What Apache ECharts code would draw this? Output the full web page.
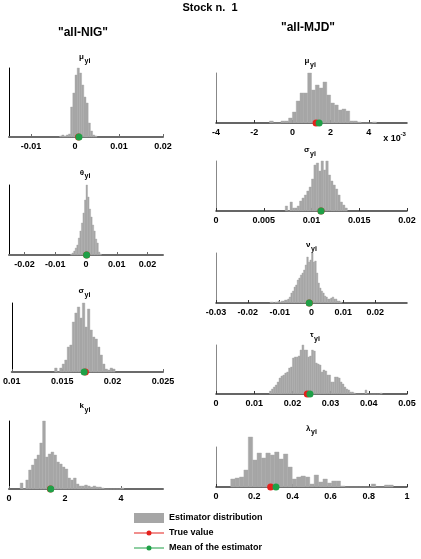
<!DOCTYPE html>
<html>
<head>
<meta charset="utf-8">
<script src="https://cdn.jsdelivr.net/npm/echarts@6/dist/echarts.min.js"></script>
<style>
html, body { margin: 0; padding: 0; background: #fff; }
#chart { width: 421px; height: 559px; }
</style>
</head>
<body>
<div id="chart"></div>
<script>
// histogram heights; each series = first bin left edge, bin width, counts
// "all-NIG"
const nigMuStart = -0.0035, nigMuStep = 0.0005;
const nigMuCounts = [1, 2, 1, 2, 3, 30, 44, 62, 69, 64, 52, 40, 34, 14, 6, 2, 1];
const nigThetaStart = -0.005, nigThetaStep = 0.0005;
const nigThetaCounts = [1, 2, 4, 7, 10, 17, 24, 32, 42, 55, 70, 58, 46, 38, 30, 24, 16, 12, 3, 1];
const nigSigmaStart = 0.01425, nigSigmaStep = 0.00025;
const nigSigmaCounts = [4, 0, 4, 8, 12, 25, 27, 50, 59, 65, 54, 69, 45, 63, 42, 35, 33, 25, 17, 8, 3, 2, 4, 3];
const nigKStart = 0.4, nigKStep = 0.1;
const nigKCounts = [6, 0, 9, 19, 24, 30, 34, 46, 68, 32, 35, 37, 34, 27, 25, 22, 20, 11, 9, 11, 5, 3, 3, 4, 3, 2, 3, 2, 2, 1, 0, 0, 0, 0, 0, 0, 1];

// "all-MJD" (mu axis in units of 10^-3)
const mjdMuStart = -1.2, mjdMuStep = 0.2;
const mjdMuCounts = [2, 0, 0, 2, 2, 5, 11, 22, 30, 30, 50, 33, 38, 35, 41, 28, 20, 18, 13, 14, 12, 2, 2, 1, 0, 0, 0, 1];
const mjdSigmaStart = 0.00725, mjdSigmaStep = 0.00025;
const mjdSigmaCounts = [5, 0, 9, 3, 3, 5, 10, 13, 16, 20, 24, 32, 46, 48, 40, 50, 41, 50, 36, 30, 26, 22, 16, 9, 6, 3];
const mjdNuStart = -0.013, mjdNuStep = 0.0005;
const mjdNuCounts = [1, 1, 0, 1, 1, 2, 1, 2, 2, 3, 3, 4, 6, 10, 12, 16, 18, 23, 25, 28, 30, 33, 38, 46, 41, 43, 50, 41, 42, 30, 20, 15, 12, 10, 7, 6, 4, 4, 5, 6, 4, 4, 2, 2, 1];
const mjdTauStart = 0.014, mjdTauStep = 0.0005;
const mjdTauCounts = [3, 5, 7, 9, 12, 16, 18, 19, 21, 22, 26, 27, 36, 37, 37, 38, 44, 49, 44, 44, 37, 38, 44, 43, 31, 30, 29, 22, 24, 23, 19, 19, 12, 12, 17, 17, 16, 12, 10, 7, 5, 4, 2, 2, 1, 0, 0, 0, 0, 0, 4, 0, 0, 0, 0, 0, 0, 0, 1];
const mjdLambdaStart = 0.077, mjdLambdaStep = 0.023;
const mjdLambdaCounts = [8, 9, 10, 17, 50, 27, 34, 29, 34, 32, 35, 28, 33, 20, 8, 10, 11, 10, 3, 12, 5, 8, 4, 6, 6, 1, 0, 0, 0, 0, 0, 0, 3, 0, 0, 2, 2];

// true value / mean of the estimator
const trueValues = [0.0008, 0.0002, 0.0173, 1.48, 1.24, 0.011, -0.0007, 0.0239, 0.286];
const meanValues = [0.0009, 0.0002, 0.01718, 1.49, 1.40, 0.011, -0.0007, 0.0246, 0.314];

// tick labels
const nigMuTicks = [-0.01, 0, 0.01, 0.02];
const nigThetaTicks = [-0.02, -0.01, 0, 0.01, 0.02];
const nigSigmaTicks = [0.01, 0.015, 0.02, 0.025];
const nigKTicks = [0, 2, 4];
const mjdMuTicks = [-4, -2, 0, 2, 4];
const mjdSigmaTicks = [0, 0.005, 0.01, 0.015, 0.02];
const mjdNuTicks = [-0.03, -0.02, -0.01, 0, 0.01, 0.02];
const mjdTauTicks = [0, 0.01, 0.02, 0.03, 0.04, 0.05];
const mjdLambdaTicks = [0, 0.2, 0.4, 0.6, 0.8, 1];

const FONT = 'Liberation Sans, Arial, sans-serif';
const BAR = '#a6a6a6';
const RED = '#e4211c';
const GREEN = '#1fa047';

const panels = [
    { sym: 'μ', start: nigMuStart, step: nigMuStep, counts: nigMuCounts, min: -0.015, max: 0.02, ticks: nigMuTicks, left: 9, top: 68, width: 154, height: 69, tx: 84, ty: 57, side: 'L' },
    { sym: 'θ', start: nigThetaStart, step: nigThetaStep, counts: nigThetaCounts, min: -0.025, max: 0.025, ticks: nigThetaTicks, left: 9, top: 185, width: 154, height: 70, tx: 84, ty: 172.5, side: 'L' },
    { sym: 'σ', start: nigSigmaStart, step: nigSigmaStep, counts: nigSigmaCounts, min: 0.01, max: 0.025, ticks: nigSigmaTicks, left: 9, top: 303, width: 154, height: 69, tx: 84, ty: 291, side: 'L' },
    { sym: 'k', start: nigKStart, step: nigKStep, counts: nigKCounts, min: 0, max: 5.5, ticks: nigKTicks, left: 9, top: 421, width: 154, height: 68, tx: 84, ty: 406, side: 'L' },
    { sym: 'μ', start: mjdMuStart, step: mjdMuStep, counts: mjdMuCounts, min: -4, max: 6, ticks: mjdMuTicks, left: 216, top: 73, width: 191, height: 50, tx: 309.5, ty: 61, side: 'R' },
    { sym: 'σ', start: mjdSigmaStart, step: mjdSigmaStep, counts: mjdSigmaCounts, min: 0, max: 0.02, ticks: mjdSigmaTicks, left: 216, top: 161, width: 191, height: 50, tx: 309.5, ty: 150, side: 'R' },
    { sym: 'ν', start: mjdNuStart, step: mjdNuStep, counts: mjdNuCounts, min: -0.03, max: 0.03, ticks: mjdNuTicks, left: 216, top: 253, width: 191, height: 50, tx: 310.5, ty: 245, side: 'R' },
    { sym: 'τ', start: mjdTauStart, step: mjdTauStep, counts: mjdTauCounts, min: 0, max: 0.05, ticks: mjdTauTicks, left: 216, top: 345, width: 191, height: 49, tx: 313.5, ty: 335, side: 'R' },
    { sym: 'λ', start: mjdLambdaStart, step: mjdLambdaStep, counts: mjdLambdaCounts, min: 0, max: 1, ticks: mjdLambdaTicks, left: 216, top: 447, width: 191, height: 40, tx: 310.5, ty: 428.5, side: 'R' }
];

const fmt = v => String(Math.round(v * 10000) / 10000);

const grid = [], xAxis = [], yAxis = [], series = [];
const graphic = [
    { type: 'text', x: 210, y: 8, style: { text: 'Stock n.  1', font: 'bold 11px ' + FONT, fill: '#000', align: 'center', verticalAlign: 'middle' } },
    { type: 'text', x: 83, y: 32.5, style: { text: '"all-NIG"', font: 'bold 12px ' + FONT, fill: '#000', align: 'center', verticalAlign: 'middle' } },
    { type: 'text', x: 308, y: 27.5, style: { text: '"all-MJD"', font: 'bold 12px ' + FONT, fill: '#000', align: 'center', verticalAlign: 'middle' } },
    { type: 'text', x: 392, y: 139, style: { text: 'x 10', font: 'bold 9px ' + FONT, fill: '#000', align: 'center', verticalAlign: 'middle' } },
    { type: 'text', x: 400.5, y: 134.5, style: { text: '-3', font: 'bold 6px ' + FONT, fill: '#000', align: 'left', verticalAlign: 'middle' } }
];

panels.forEach((p, i) => {
    const axisCol = p.side === 'L' ? '#6b6b6b' : '#333';
    grid.push({ left: p.left, top: p.top, width: p.width, height: p.height });
    xAxis.push({
        type: 'value', gridIndex: i, min: p.min, max: p.max,
        splitLine: { show: false },
        axisLine: { show: true, lineStyle: { color: axisCol, width: p.side === 'L' ? 2 : 1.5 } },
        axisTick: { show: true, inside: true, length: 3, customValues: p.ticks, lineStyle: { color: axisCol } },
        axisLabel: {
            customValues: p.ticks, margin: 5, formatter: fmt,
            fontFamily: FONT, fontWeight: 'bold', fontSize: 9, color: '#000'
        }
    });
    yAxis.push({
        type: 'value', gridIndex: i, min: 0, max: p.height,
        splitLine: { show: false },
        axisLine: { show: true, onZero: false, lineStyle: { color: p.side === 'L' ? '#000' : '#888', width: 1 } },
        axisTick: { show: false },
        axisLabel: { show: false }
    });
    series.push({
        name: 'Estimator distribution',
        type: 'custom',
        xAxisIndex: i, yAxisIndex: i,
        clip: false,
        itemStyle: { color: BAR },
        encode: { x: 0, y: 1 },
        data: p.counts.map((c, k) => [p.start + k * p.step, c]),
        renderItem: (params, api) => {
            const x0 = api.value(0);
            const topLeft = api.coord([x0, api.value(1)]);
            const botRight = api.coord([x0 + p.step, 0]);
            return {
                type: 'rect',
                shape: { x: topLeft[0], y: topLeft[1], width: botRight[0] - topLeft[0], height: botRight[1] - topLeft[1] },
                style: { fill: BAR, stroke: BAR, lineWidth: 0.4 }
            };
        },
        z: 1
    });
    series.push({
        name: 'True value', type: 'scatter', xAxisIndex: i, yAxisIndex: i,
        symbolSize: 7, clip: false, itemStyle: { color: RED, opacity: 1 },
        data: [[trueValues[i], 0]], z: 5
    });
    series.push({
        name: 'Mean of the estimator', type: 'scatter', xAxisIndex: i, yAxisIndex: i,
        symbolSize: 7, clip: false, itemStyle: { color: GREEN, opacity: 1 },
        data: [[meanValues[i], 0]], z: 6
    });
    graphic.push({ type: 'text', x: p.tx, y: p.ty, style: { text: p.sym, font: 'bold 8px ' + FONT, fill: '#000', align: 'right', verticalAlign: 'middle' } });
    graphic.push({ type: 'text', x: p.tx + 0.5, y: p.ty + 4, style: { text: 'yi', font: 'bold 7px ' + FONT, fill: '#000', align: 'left', verticalAlign: 'middle' } });
});

// line with a dot in the middle, bounding box forced to 30x10
const markerIcon = 'path://M0,0M30,10M0,4.5L30,4.5L30,5.5L0,5.5ZM12.5,5A2.5,2.5,0,1,1,17.5,5A2.5,2.5,0,1,1,12.5,5Z';

const chart = echarts.init(document.getElementById('chart'));
chart.setOption({
    animation: false,
    grid: grid,
    xAxis: xAxis,
    yAxis: yAxis,
    series: series,
    graphic: graphic,
    legend: {
        left: 134, top: 513, orient: 'vertical',
        height: 80, padding: 0,
        itemWidth: 30, itemHeight: 10, itemGap: 5,
        selectedMode: false,
        textStyle: { fontFamily: FONT, fontWeight: 'bold', fontSize: 9, color: '#000' },
        data: [
            { name: 'Estimator distribution', icon: 'rect' },
            { name: 'True value', icon: markerIcon },
            { name: 'Mean of the estimator', icon: markerIcon }
        ]
    }
});
window.addEventListener('resize', () => chart.resize());
</script>
</body>
</html>
